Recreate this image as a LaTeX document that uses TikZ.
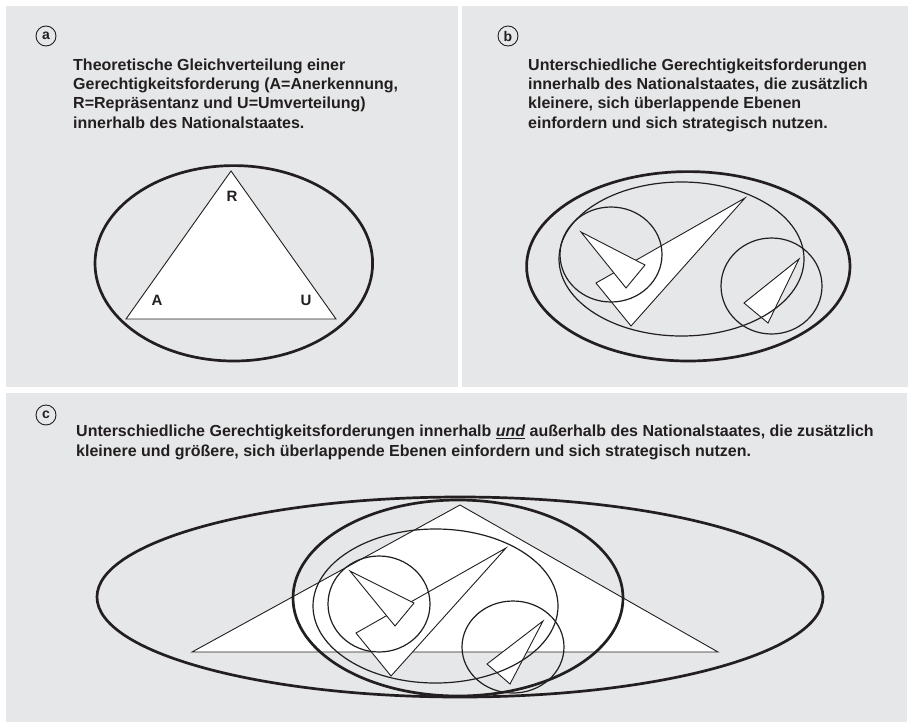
\documentclass[tikz,border=0pt]{standalone}
\usepackage{fontspec}
\setmainfont{Liberation Sans}
\usepackage{xcolor}
\usepackage{tikz}

\definecolor{panelgray}{HTML}{E6E7E8}
\definecolor{ink}{HTML}{231F20}

\begin{document}
\begin{tikzpicture}[
    x=1pt, y=-1pt,
    panel/.style={fill=panelgray},
    rim/.style={draw=ink, line width=2.7pt},
    ring/.style={draw=ink, line width=1.2pt},
    wedge/.style={fill=white, draw=ink, line width=0.9pt, line join=miter},
    caption/.style={anchor=base west, align=left, inner sep=0pt, text=ink,
                    font=\bfseries\fontsize{16}{19.3}\selectfont},
    tag/.style={circle, draw=ink, line width=0.9pt, minimum size=20pt, inner sep=0pt,
                text=ink, font=\bfseries\fontsize{14}{14}\selectfont},
    corner/.style={text=ink, font=\bfseries\fontsize{15}{15}\selectfont}
]

\useasboundingbox (0,0) rectangle (909,723);
\fill[white] (0,0) rectangle (909,723);

% -------------------------------------------------
% Panels
% -------------------------------------------------

\fill[panel] (6,6) rectangle (458,387);
\fill[panel] (462,6) rectangle (908,387);
\fill[panel] (6,393) rectangle (907,722);

% -------------------------------------------------
% (a) one level, balanced triangle
% -------------------------------------------------

\node[tag] (taga) at (46,36) {a};

% anchored at the baseline of the last line
\node[caption] (capa) at (73,128)
{
Theoretische Gleichverteilung einer\\
Gerechtigkeitsforderung (A=Anerkennung,\\
R=Repräsentanz und U=Umverteilung)\\
innerhalb des Nationalstaates.
};

\draw[rim] (233.8,263.3) ellipse [x radius=138.8, y radius=97.7];

\draw[wedge] (231,171) -- (336,319) -- (126,319) -- cycle;

\node[corner] (r) at (232,196) {R};
\node[corner] (aa) at (157,300) {A};
\node[corner] (u) at (306,300) {U};

% -------------------------------------------------
% (b) smaller, overlapping levels inside the state
% -------------------------------------------------

\node[tag] (tagb) at (508,36) {b};

\node[caption] (capb) at (528,128)
{
Unterschiedliche Gerechtigkeitsforderungen\\
innerhalb des Nationalstaates, die zusätzlich\\
kleinere, sich überlappende Ebenen\\
einfordern und sich strategisch nutzen.
};

\draw[rim] (688.3,266.3) ellipse [x radius=161.7, y radius=94.7];

% shapes
\draw[wedge] (596,283) -- (745,198) -- (631,326) -- cycle;
\draw[wedge] (581,232) -- (645,265) -- (626,288) -- cycle;
\draw[wedge] (799,259) -- (768,323) -- (744,303) -- cycle;

% levels
\draw[ring] (681.5,259) ellipse [x radius=122.5, y radius=77];
\draw[ring] (611,254.5) ellipse [x radius=51, y radius=47.5];
\draw[ring] (771.5,286) ellipse [x radius=50.5, y radius=48];

% -------------------------------------------------
% (c) smaller and larger levels, in and outside
% -------------------------------------------------

\node[tag] (tagc) at (46,415) {c};

\node[caption] (capc) at (76,456)
{
Unterschiedliche Gerechtigkeitsforderungen innerhalb \textit{\underline{und}} außerhalb des Nationalstaates, die zusätzlich\\
kleinere und größere, sich überlappende Ebenen einfordern und sich strategisch nutzen.
};

% shapes
\draw[wedge] (460,505) -- (718,652) -- (192,652) -- cycle;
\draw[wedge] (356,633) -- (506,548) -- (391,676) -- cycle;
\draw[wedge] (350,571) -- (414,603) -- (395,626) -- cycle;
\draw[wedge] (543,621) -- (510,684) -- (487,664) -- cycle;

% levels
\draw[ring] (435.5,606) ellipse [x radius=122.5, y radius=77];
\draw[ring] (379,604) ellipse [x radius=51, y radius=48];
\draw[ring] (513,647) ellipse [x radius=51, y radius=46];
\draw[rim] (458,598) ellipse [x radius=165, y radius=98];
\draw[rim] (460,597) ellipse [x radius=363, y radius=100];

\end{tikzpicture}
\end{document}
